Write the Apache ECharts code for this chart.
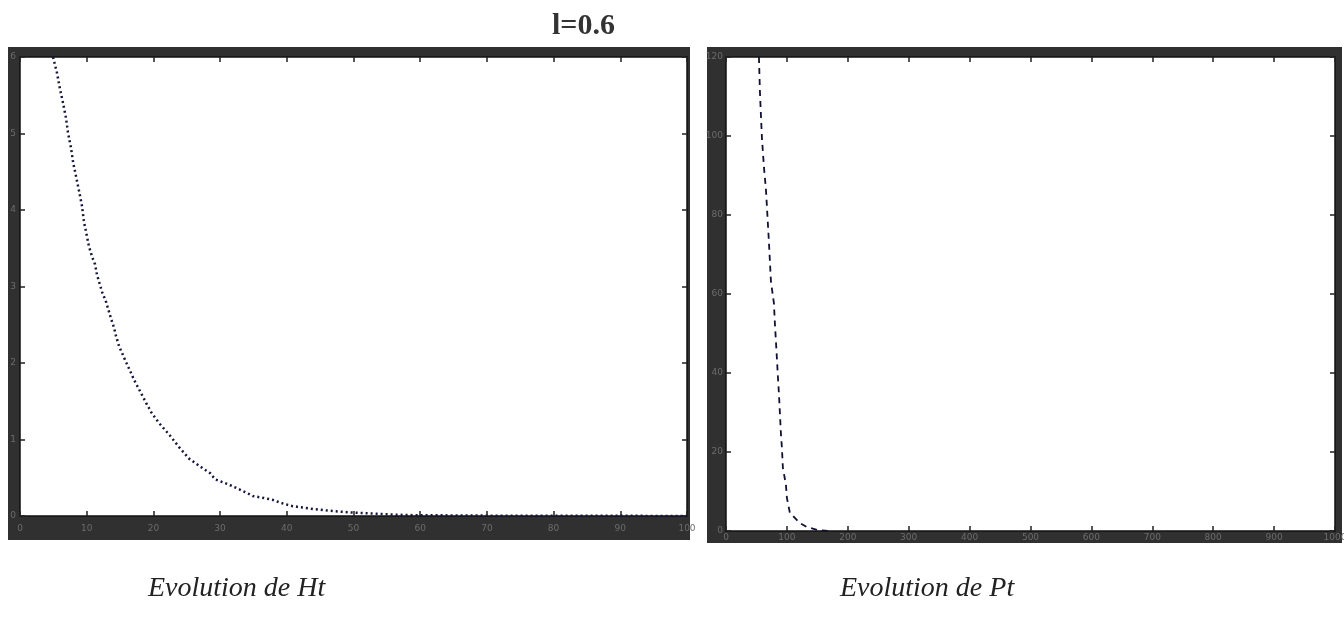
<!DOCTYPE html>
<html>
<head>
<meta charset="utf-8">
<title>l=0.6</title>
<script src="https://cdn.jsdelivr.net/npm/echarts@6/dist/echarts.min.js"></script>
<style>
  html, body { margin: 0; padding: 0; background: #ffffff; overflow: hidden; }
  #chart { width: 1344px; height: 619px; }
</style>
</head>
<body>
<div id="chart"></div>
<script>
// Ht over time (left panel)
const htTime = [4.95, 5.55, 6.0, 6.45, 6.9, 7.2, 7.65, 7.95, 8.4, 8.85, 9.3, 9.6, 10.05, 10.35,
  10.8, 11.25, 11.55, 12.0, 12.3, 12.9, 13.65, 14.1, 14.4, 14.85, 15.75, 16.8, 17.1, 18.9,
  19.65, 20.55, 21.0, 22.5, 23.85, 25.35, 27.3, 28.5, 29.25, 30.45, 31.35, 34.05, 34.95,
  36.3, 37.95, 39.15, 40.8, 43.2, 46.2, 49.05, 52.0, 57.75, 69.0, 80.0, 90.0, 100.0];
const htValue = [6.0, 5.79, 5.58, 5.40, 5.20, 5.01, 4.81, 4.63, 4.44, 4.25, 4.05, 3.84, 3.65, 3.52,
  3.39, 3.29, 3.15, 3.02, 2.93, 2.80, 2.58, 2.46, 2.35, 2.22, 2.04, 1.84, 1.78, 1.48,
  1.36, 1.25, 1.20, 1.05, 0.90, 0.75, 0.63, 0.56, 0.48, 0.44, 0.41, 0.30, 0.26,
  0.24, 0.21, 0.17, 0.13, 0.10, 0.07, 0.05, 0.035, 0.012, 0.005, 0.003, 0.002, 0.001];

// Pt over time (right panel)
const ptTime = [54.1, 55.7, 59.0, 62.3, 65.6, 70.5, 73.8, 78.7, 80.3, 83.6, 85.2, 86.9, 90.2,
  91.8, 93.4, 98.4, 100.0, 104.9, 113.1, 121.3, 132.8, 150.8, 170.0];
const ptValue = [120, 111.2, 99.5, 92.1, 86.5, 73.1, 63.2, 57.6, 52.5, 43.7, 39.1, 34.8, 24.6,
  21.1, 16.0, 11.7, 8.4, 4.6, 3.3, 2.0, 1.0, 0.25, 0.0];

// Axis ranges: [min, max, interval]
const htXAxisRange = [0, 100, 10];
const htYAxisRange = [0, 6, 1];
const ptXAxisRange = [0, 1000, 100];
const ptYAxisRange = [0, 120, 20];

const chartTitle = 'l=0.6';
const captionHt = 'Evolution de Ht';
const captionPt = 'Evolution de Pt';

// plot areas and the dark frames around them (pixels)
const CW = 1344, CH = 619;
const leftPlot = { x0: 20, y0: 57, x1: 687, y1: 516 };
const rightPlot = { x0: 726, y0: 57, x1: 1335, y1: 531 };
const leftFrame = { x0: 8, y0: 47, x1: 690, y1: 540 };
const rightFrame = { x0: 707, y0: 47, x1: 1342, y1: 543 };
const frameColor = '#303030';
const tickLabelColor = '#6c6c6c';

function gridOf(p) {
  return {
    left: p.x0, top: p.y0, right: CW - p.x1, bottom: CH - p.y1,
    containLabel: false,
    outerBoundsMode: 'none'
  };
}

// four bands forming a thick frame between the outer box and the plot area
function frameBands(f, p) {
  const s = { fill: frameColor };
  return [
    { type: 'rect', z: -5, shape: { x: f.x0, y: f.y0, width: f.x1 - f.x0, height: p.y0 - f.y0 }, style: s, silent: true },
    { type: 'rect', z: -5, shape: { x: f.x0, y: p.y1, width: f.x1 - f.x0, height: f.y1 - p.y1 }, style: s, silent: true },
    { type: 'rect', z: -5, shape: { x: f.x0, y: f.y0, width: p.x0 - f.x0, height: f.y1 - f.y0 }, style: s, silent: true },
    { type: 'rect', z: -5, shape: { x: p.x1, y: f.y0, width: f.x1 - p.x1, height: f.y1 - f.y0 }, style: s, silent: true }
  ];
}

function valueAxis(range, gridIndex, position, labelMargin, showLabel) {
  return {
    type: 'value',
    gridIndex: gridIndex,
    position: position,
    min: range[0],
    max: range[1],
    interval: range[2],
    splitLine: { show: false },
    axisLine: { show: true, onZero: false, lineStyle: { color: '#111', width: 1.5 } },
    axisTick: { show: true, inside: true, length: 5, lineStyle: { color: '#222', width: 1.5 } },
    axisLabel: {
      show: showLabel,
      margin: labelMargin,
      color: tickLabelColor,
      fontSize: 9,
      fontFamily: 'DejaVu Sans',
      formatter: (v) => String(v)
    }
  };
}

const chart = echarts.init(document.getElementById('chart'), null, { renderer: 'canvas' });

chart.setOption({
  backgroundColor: '#ffffff',
  animation: false,
  title: [
    {
      text: chartTitle,
      left: 552, top: 11, padding: 0,
      textStyle: { fontFamily: 'Liberation Serif', fontWeight: 'bold', fontSize: 30, color: '#333333' }
    },
    {
      text: captionHt,
      left: 148, top: 575, padding: 0,
      textStyle: { fontFamily: 'Liberation Serif', fontStyle: 'italic', fontWeight: 'normal', fontSize: 28, color: '#222222' }
    },
    {
      text: captionPt,
      left: 840, top: 575, padding: 0,
      textStyle: { fontFamily: 'Liberation Serif', fontStyle: 'italic', fontWeight: 'normal', fontSize: 28, color: '#222222' }
    }
  ],
  graphic: { elements: frameBands(leftFrame, leftPlot).concat(frameBands(rightFrame, rightPlot)) },
  grid: [gridOf(leftPlot), gridOf(rightPlot)],
  xAxis: [
    valueAxis(htXAxisRange, 0, 'bottom', 8, true),
    valueAxis(htXAxisRange, 0, 'top', 4, false),
    valueAxis(ptXAxisRange, 1, 'bottom', 2, true),
    valueAxis(ptXAxisRange, 1, 'top', 4, false)
  ],
  yAxis: [
    valueAxis(htYAxisRange, 0, 'left', 4, true),
    valueAxis(htYAxisRange, 0, 'right', 4, false),
    valueAxis(ptYAxisRange, 1, 'left', 3, true),
    valueAxis(ptYAxisRange, 1, 'right', 4, false)
  ],
  series: [
    {
      name: 'Ht',
      type: 'line',
      xAxisIndex: 0, yAxisIndex: 0,
      data: htTime.map((t, i) => [t, htValue[i]]),
      showSymbol: false,
      clip: true,
      lineStyle: { color: '#16163a', width: 2.5, type: [2, 3] },
      z: 5
    },
    {
      name: 'Pt',
      type: 'line',
      xAxisIndex: 2, yAxisIndex: 2,
      data: ptTime.map((t, i) => [t, ptValue[i]]),
      showSymbol: false,
      clip: true,
      lineStyle: { color: '#111133', width: 1.8, type: [6, 5] },
      z: 5
    }
  ]
});
</script>
</body>
</html>
